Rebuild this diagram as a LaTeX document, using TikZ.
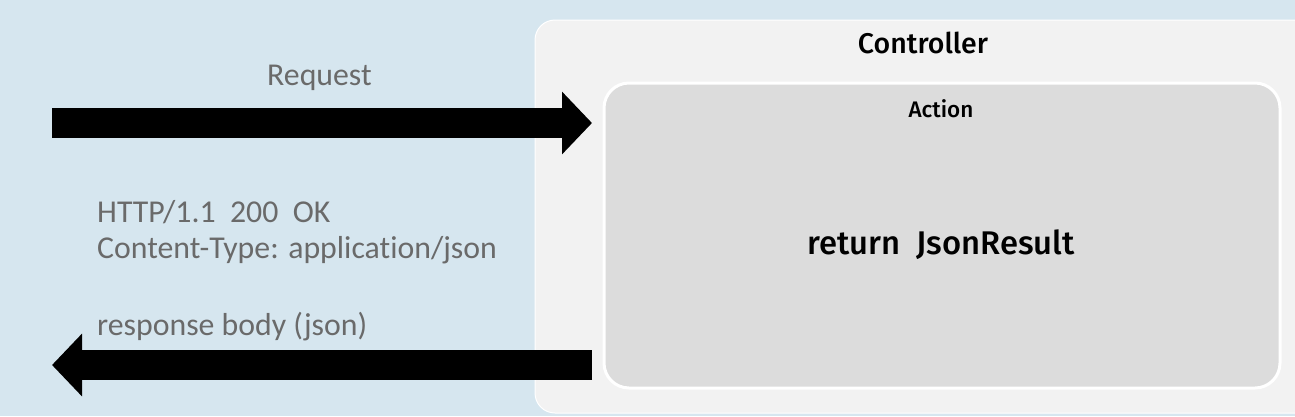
\documentclass[tikz,border=0pt]{standalone}
\usepackage{fontspec}
\setmainfont[Ligatures=NoCommon]{Carlito}
\newfontfamily\dinfont[UprightFont={* Medium}]{Fira Sans}
\usetikzlibrary{positioning,arrows.meta}
\definecolor{bgblue}{HTML}{D6E6EF}
\definecolor{ctrlgray}{HTML}{F2F2F2}
\definecolor{actgray}{HTML}{DCDCDC}
\definecolor{txtgray}{HTML}{6A6A6A}

\begin{document}
\begin{tikzpicture}[x=1pt, y=-1pt,
    graytext/.style={text=txtgray, font=\fontsize{31.8}{36}\selectfont, inner sep=0pt, anchor=base west},
    titletext/.style={text=black, inner sep=0pt, anchor=base},
    blockarrow/.style={line width=30pt, -{Triangle[length=30pt 0 0, width=61pt 0 0]}}]

        % canvas
        \useasboundingbox (0,0) rectangle (1295,416);
        \clip (0,0) rectangle (1295,416);
        \fill[bgblue] (0,0) rectangle (1295,416);

        % controller and action boxes
        \node[draw=white, line width=1pt, fill=ctrlgray, rounded corners=20pt,
              minimum width=785pt, minimum height=393pt, inner sep=0pt] (ctrl) at (927.5,216.5) {};
        \node[draw=white, line width=3pt, fill=actgray, rounded corners=25pt,
              minimum width=676pt, minimum height=305pt, inner sep=0pt] (action) at (942,235.5) {};

        % titles
        \node[titletext, font=\dinfont\fontsize{28.5}{34}\selectfont] (ctrltitle) at (923,53) {Controller};
        \node[titletext, font=\dinfont\fontsize{22.5}{27}\selectfont] (acttitle) at (941,117) {Action};
        \node[titletext, font=\dinfont\fontsize{32.8}{39}\selectfont] (result) at (941,254) {return\ \ JsonResult};

        % request
        \coordinate (reqstart) at (52,123);
        \coordinate (reqend) at (592,123);
        \draw[blockarrow] (reqstart) -- (reqend);
        \node[graytext] (reqlabel) at (267,85) {Request};

        % response
        \coordinate (respstart) at (592,365);
        \coordinate (respend) at (52,365);
        \draw[blockarrow] (respstart) -- (respend);
        \node[graytext] (status) at (97,222) {HTTP/1.1\ \ 200\ \ OK};
        \node[graytext] (ctype) at (97,258) {Content-Type: application/json};
        \node[graytext] (body) at (97,335) {response body (json)};

\end{tikzpicture}
\end{document}
